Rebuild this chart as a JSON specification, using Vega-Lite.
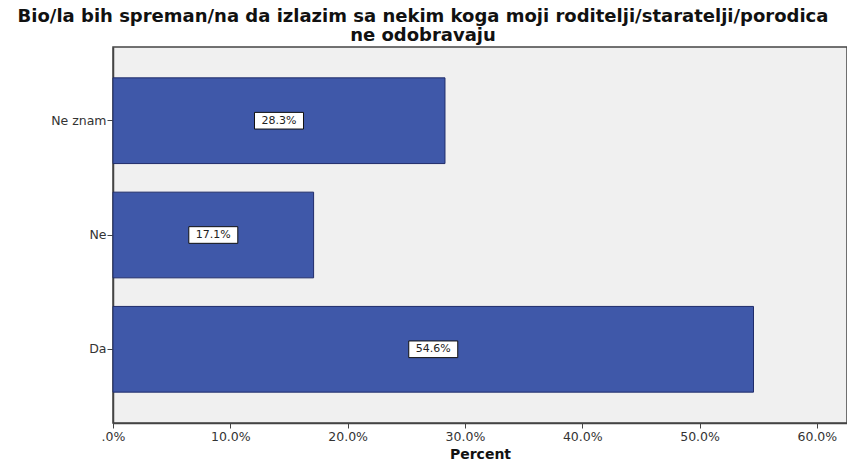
{
  "$schema": "https://vega.github.io/schema/vega-lite/v6.json",
  "autosize": "none",
  "width": 734,
  "height": 376,
  "padding": {"left": 113, "top": 47, "right": 0, "bottom": 40},
  "background": "white",
  "config": {
    "view": {"fill": "#f0f0f0", "stroke": "#444444", "strokeWidth": 1.5},
    "font": "DejaVu Sans"
  },
  "title": {
    "text": ["Bio/la bih spreman/na da izlazim sa nekim koga moji roditelji/staratelji/porodica", "ne odobravaju"],
    "font": "DejaVu Sans",
    "fontSize": 18,
    "fontWeight": "bold",
    "color": "#111111",
    "anchor": "middle",
    "dx": -57,
    "offset": 2,
    "lineHeight": 19
  },
  "data": {
    "values": [
      {"answer": "Ne znam", "percent": 28.3},
      {"answer": "Ne", "percent": 17.1},
      {"answer": "Da", "percent": 54.6}
    ]
  },
  "encoding": {
    "y": {
      "field": "answer",
      "type": "nominal",
      "sort": ["Ne znam", "Ne", "Da"],
      "scale": {"paddingInner": 0.25, "paddingOuter": 0.27},
      "axis": {
        "title": null,
        "labelFontSize": 12.5,
        "labelColor": "#333333",
        "labelFont": "DejaVu Sans",
        "tickColor": "#444444",
        "tickSize": 6,
        "domainColor": "#444444",
        "domainWidth": 1.5,
        "labelPadding": 1
      }
    }
  },
  "layer": [
    {
      "mark": {"type": "bar", "color": "#3f58a9", "stroke": "#1f2c6a", "strokeWidth": 1},
      "encoding": {
        "x": {
          "field": "percent",
          "type": "quantitative",
          "scale": {"domain": [0, 62.57], "nice": false},
          "axis": {
            "title": "Percent",
            "titleFontSize": 14,
            "titleFontWeight": "bold",
            "titleFont": "DejaVu Sans",
            "titleColor": "#111111",
            "titlePadding": 5,
            "values": [0, 10, 20, 30, 40, 50, 60],
            "labelExpr": "datum.value == 0 ? '.0%' : format(datum.value, '.1f') + '%'",
            "labelFontSize": 12.5,
            "labelColor": "#333333",
            "labelFont": "DejaVu Sans",
            "tickColor": "#444444",
            "tickSize": 5,
            "domainColor": "#444444",
            "domainWidth": 1.5,
            "grid": false,
            "labelFlush": false
          }
        }
      }
    },
    {
      "transform": [{"calculate": "datum.percent / 2", "as": "mid"}],
      "mark": {"type": "point", "shape": "M-1,-0.34H1V0.34H-1Z", "filled": true, "fill": "white", "stroke": "#111111", "strokeWidth": 1, "opacity": 1, "size": 2400},
      "encoding": {
        "x": {"field": "mid", "type": "quantitative"}
      }
    },
    {
      "transform": [
        {"calculate": "datum.percent / 2", "as": "mid"},
        {"calculate": "format(datum.percent, '.1f') + '%'", "as": "label"}
      ],
      "mark": {"type": "text", "fontSize": 11, "color": "#222222", "font": "DejaVu Sans"},
      "encoding": {
        "x": {"field": "mid", "type": "quantitative"},
        "text": {"field": "label", "type": "nominal"}
      }
    }
  ]
}
